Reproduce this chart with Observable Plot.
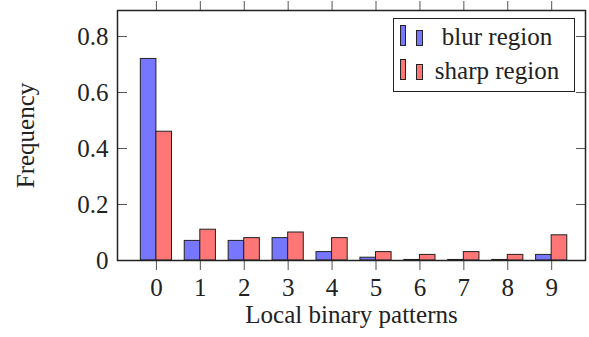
<!DOCTYPE html>
<html><head><meta charset="utf-8">
<script src="https://cdn.jsdelivr.net/npm/d3@7"></script>
<script src="https://cdn.jsdelivr.net/npm/@observablehq/plot@0.6"></script>
<style>
body{margin:0;background:#fff;}
#wrap{position:relative;width:589px;height:337px;}
.legend{position:absolute;left:393px;top:18px;width:180px;height:72px;border:1.5px solid #222;background:#fff;font-family:"Liberation Serif";font-size:25px;color:#222;}
.row{position:absolute;left:0;width:180px;height:34px;}
.icon{position:absolute;border:1px solid #222;box-sizing:border-box;}
.lab{position:absolute;left:33px;width:140px;text-align:center;line-height:34px;top:-1px;}
</style></head>
<body><div id="wrap"></div>
<script>
const categories = [0, 1, 2, 3, 4, 5, 6, 7, 8, 9];
const blurRegion = [0.72, 0.07, 0.07, 0.08, 0.03, 0.01, 0.002, 0.002, 0.002, 0.02];
const sharpRegion = [0.46, 0.11, 0.08, 0.10, 0.08, 0.03, 0.02, 0.03, 0.02, 0.09];
const yTicks = [0, 0.2, 0.4, 0.6, 0.8];
const seriesNames = ["blur region", "sharp region"];
const seriesColors = ["#7676ff", "#ff7676"];

const barWidth = 0.355;
const rows = [];
categories.forEach((c, i) => {
  rows.push({pattern: c, series: seriesNames[0], value: blurRegion[i], side: -1});
  rows.push({pattern: c, series: seriesNames[1], value: sharpRegion[i], side: 1});
});

const chart = Plot.plot({
  width: 589, height: 337,
  marginLeft: 117, marginRight: 4, marginTop: 10, marginBottom: 77,
  x: {domain: [-0.886, 9.77]},
  y: {domain: [0, 0.893]},
  color: {domain: seriesNames, range: seriesColors},
  style: {fontFamily: "Liberation Serif", fontSize: "25px", color: "#222", background: "#fff"},
  marks: [
    Plot.rectY(rows, {
      x1: d => d.side < 0 ? d.pattern - barWidth : d.pattern,
      x2: d => d.side < 0 ? d.pattern : d.pattern + barWidth,
      y1: 0, y2: "value", fill: "series", stroke: "#222", strokeWidth: 1
    }),
    Plot.axisY({anchor: "left", ticks: yTicks, tickSize: 0, tickPadding: 9, tickFormat: d => String(d), label: null}),
    Plot.axisY({anchor: "left", ticks: yTicks, tickSize: 10, insetLeft: 10, tickFormat: () => "", label: null, stroke: "#555"}),
    Plot.axisY({anchor: "right", ticks: yTicks, tickSize: 10, insetRight: 10, tickFormat: () => "", label: null, stroke: "#555"}),
    Plot.axisX({anchor: "bottom", ticks: categories, tickSize: 10, tickPadding: 8, tickFormat: d => String(d), label: null, stroke: "#555"}),
    Plot.axisX({anchor: "top", ticks: categories, tickSize: 10, tickFormat: () => "", label: null, stroke: "#555"}),
    Plot.frame({stroke: "#222", strokeWidth: 1.5}),
    Plot.text(["Local binary patterns"], {frameAnchor: "bottom", lineAnchor: "top", dy: 45}),
    Plot.text(["Frequency"], {frameAnchor: "left", textAnchor: "middle", rotate: -90, dx: -92})
  ]
});
const wrap = document.getElementById("wrap");
wrap.appendChild(chart);

const legend = document.createElement("div");
legend.className = "legend";
seriesNames.forEach((name, i) => {
  const row = document.createElement("div");
  row.className = "row";
  row.style.top = (2 + i * 34) + "px";
  const a = document.createElement("div");
  a.className = "icon";
  a.style.cssText = `left:6px;top:4px;width:6px;height:21px;background:${seriesColors[i]}`;
  const b = document.createElement("div");
  b.className = "icon";
  b.style.cssText = `left:22px;top:9px;width:7px;height:16px;background:${seriesColors[i]}`;
  const t = document.createElement("div");
  t.className = "lab";
  t.textContent = name;
  row.append(a, b, t);
  legend.appendChild(row);
});
wrap.appendChild(legend);
</script>
</body></html>
